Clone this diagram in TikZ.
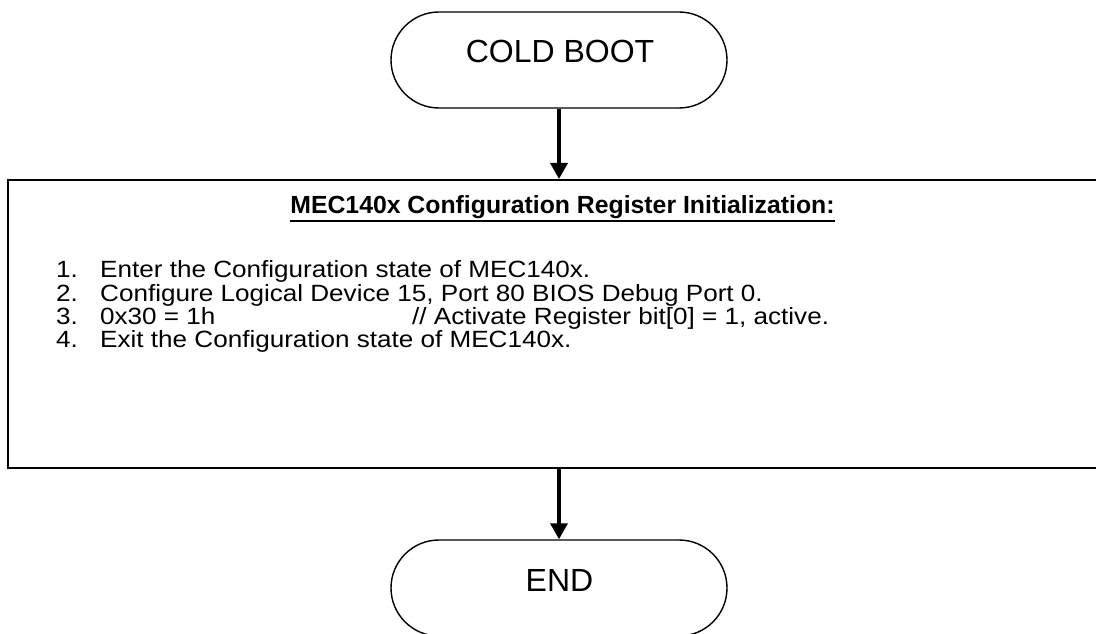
\documentclass[tikz,border=0pt]{standalone}
\usepackage{fontspec}
\setmainfont{Liberation Sans}
\newfontfamily\bodyfont[FakeStretch=1.11]{Liberation Sans}
\usetikzlibrary{arrows.meta,shapes.misc}
\tikzset{
  term/.style={draw, line width=1.4pt, rounded rectangle, minimum width=336pt, minimum height=96pt, inner sep=0pt},
  procbox/.style={draw, line width=2pt, rectangle, minimum width=1108pt, minimum height=288pt, inner sep=0pt},
  flow/.style={line width=3.6pt, -{Triangle[width=17pt,length=16pt]}},
  bigtxt/.style={inner sep=0pt, font=\fontsize{32pt}{36pt}\selectfont},
  bodytxt/.style={inner sep=0pt, anchor=base west, text height=16pt, text depth=4pt, font=\bodyfont\fontsize{23.5pt}{26pt}\selectfont},
  titletxt/.style={inner sep=0pt, anchor=base, font=\fontsize{24.8pt}{28pt}\selectfont\bfseries},
}
\begin{document}
\begin{tikzpicture}[x=1pt,y=1pt]
\useasboundingbox (0,0) rectangle (1096,633);
\clip (0,0) rectangle (1096,633);
\fill[white] (0,0) rectangle (1096,633);
% terminators
\node[term] (start) at (559,573) {};
\node[bigtxt, anchor=base] (starttxt) at (560,570) {COLD BOOT};
\node[term] (stop) at (559,45) {};
\node[bigtxt, anchor=base] (stoptxt) at (559.5,42) {END};
% process box
\node[procbox] (proc) at (562,309) {};
\node[titletxt] (title) at (562.5,419) {MEC140x Configuration Register Initialization:};
\draw[line width=2pt] ([yshift=-7pt]title.base west) -- ([yshift=-7pt]title.base east);
\node[bodytxt] (n1) at (56,355) {1.};
\node[bodytxt] (t1) at (100,355) {Enter the Configuration state of MEC140x.};
\node[bodytxt] (n2) at (56,331.7) {2.};
\node[bodytxt] (t2) at (100,331.7) {Configure Logical Device 15, Port 80 BIOS Debug Port 0.};
\node[bodytxt] (n3) at (56,308.4) {3.};
\node[bodytxt] (t3) at (100,308.4) {0x30 = 1h};
\node[bodytxt] (c3) at (412,308.4) {// Activate Register bit[0] = 1, active.};
\node[bodytxt] (n4) at (56,285.1) {4.};
\node[bodytxt] (t4) at (100,285.1) {Exit the Configuration state of MEC140x.};
% connectors
\draw[flow] (start.south) -- (proc.north -| start.south);
\draw[flow] (proc.south -| stop.north) -- (stop.north);
\end{tikzpicture}
\end{document}
